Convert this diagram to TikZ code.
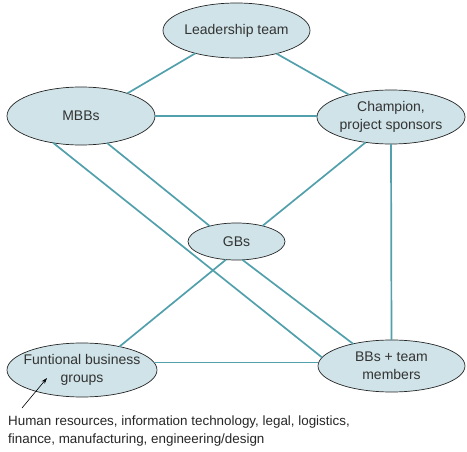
\documentclass[tikz,border=0pt]{standalone}
\usepackage{fontspec}
\setmainfont{Liberation Sans}
\usetikzlibrary{shapes.geometric,arrows.meta}
\definecolor{bubblefill}{HTML}{CFE3E8}
\definecolor{linkcol}{HTML}{52A0AB}
\begin{document}
\begin{tikzpicture}[x=1pt,y=-1pt,
  bubble/.style={ellipse,draw=black!85,line width=0.7pt,fill=bubblefill,inner sep=-14pt,outer sep=0pt,
    font=\fontsize{14}{18}\selectfont,align=center,text=black!80},
  link/.style={draw=linkcol,line width=1.7pt},
  captext/.style={font=\fontsize{13.4}{17.5}\selectfont,align=left,inner sep=0pt,text=black!85}]
\useasboundingbox (0,0) rectangle (467,452);
\node[bubble,minimum width=147pt,minimum height=55pt] (lead) at (236.5,30.5) {Leadership team};
\node[bubble,minimum width=148pt,minimum height=58pt] (mbb) at (81,116) {MBBs};
\node[bubble,minimum width=148pt,minimum height=54pt] (champ) at (391,117) {Champion,\\project sponsors};
\node[bubble,minimum width=97pt,minimum height=37pt] (gbs) at (236.5,241.5) {GBs};
\node[bubble,minimum width=150pt,minimum height=54pt] (func) at (82,370) {Funtional business\\groups};
\node[bubble,minimum width=147pt,minimum height=52pt] (bbs) at (391.5,366) {BBs + team\\members};
\begin{scope}[link]
\draw (lead.209.5) -- (mbb.26);
\draw (lead.330.5) -- (champ.152.5);
\draw (mbb.east) -- (mbb.east -| champ.west);
\draw (mbb.-46) -- (gbs.150.8);
\draw (mbb.224) -- (bbs.173);
\draw (champ.225) -- (gbs.31);
\draw (champ.south) -- (bbs.north);
\draw (gbs.240) -- (func.32);
\draw (gbs.288) -- (bbs.150);
\draw (func.6) -- (func.6 -| bbs.west);
\end{scope}
\node[captext,anchor=north west] (cap) at (8,416) {Human resources, information technology, legal, logistics,\\finance, manufacturing, engineering/design};
\coordinate (atail) at (22,408);
\coordinate (ahead) at (47,378);
\draw[-{Stealth[length=6pt,width=4pt]},line width=0.6pt] (atail) -- (ahead);
\end{tikzpicture}
\end{document}
